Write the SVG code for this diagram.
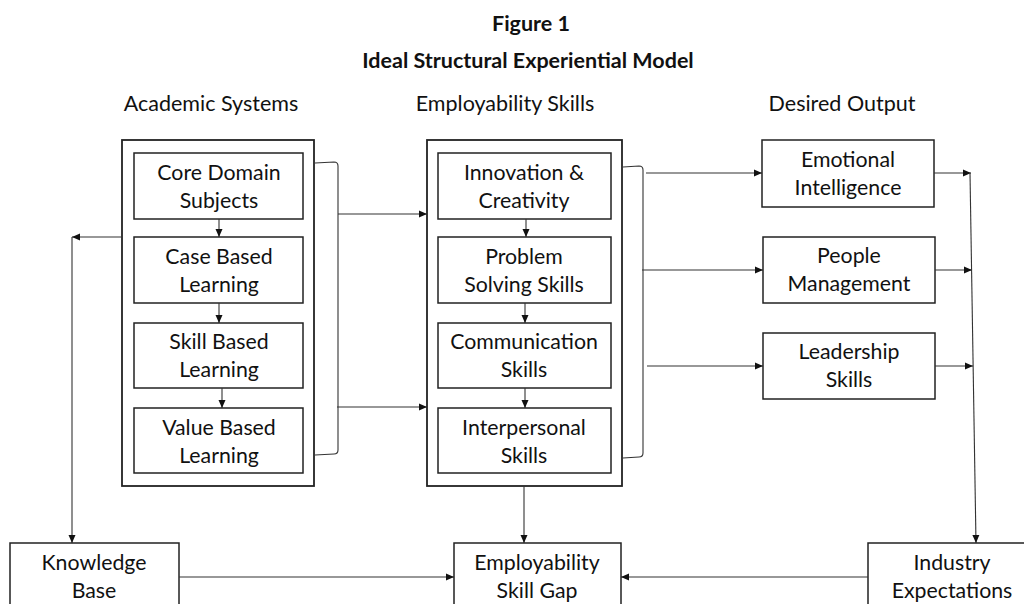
<svg xmlns="http://www.w3.org/2000/svg" width="1024" height="604" viewBox="0 0 1024 604">
  <style>
    .t { font-family: Lato, "Liberation Sans", sans-serif; font-size: 21.3px; fill: #111; text-anchor: middle; }
    .h { font-family: Lato, "Liberation Sans", sans-serif; font-size: 21.5px; fill: #111; text-anchor: middle; }
    .b { font-family: Lato, "Liberation Sans", sans-serif; font-size: 21.5px; font-weight: bold; fill: #111; text-anchor: middle; }
    .box { fill: #fff; stroke: #222; stroke-width: 1.5; }
    .frame { fill: #fff; stroke: #222; stroke-width: 1.8; }
    .c { fill: none; stroke: #333; stroke-width: 1.1; }
    .a { fill: none; stroke: #333; stroke-width: 1.1; marker-end: url(#ah); }
  </style>
  <defs>
    <marker id="ah" viewBox="0 0 8 8" refX="8" refY="4" markerWidth="8" markerHeight="8" markerUnits="userSpaceOnUse" orient="auto">
      <path d="M0,0.5 L8,4 L0,7.5 Z" fill="#111"/>
    </marker>
  </defs>
  <rect width="1024" height="604" fill="#fff"/>

  <!-- titles and column headings -->
  <text class="b" x="531" y="31">Figure 1</text>
  <text class="b" x="528" y="68">Ideal Structural Experiential Model</text>
  <text class="h" x="211" y="111">Academic Systems</text>
  <text class="h" x="505" y="111">Employability Skills</text>
  <text class="h" x="842" y="111">Desired Output</text>

  <!-- academic systems -->
  <g id="academic-systems">
    <rect class="frame" x="122" y="140" width="192" height="346"/>
  </g>
  <g id="core-domain-subjects">
    <rect class="box" x="134" y="153" width="169" height="66"/>
    <text class="t" x="219" y="180">Core Domain</text>
    <text class="t" x="219" y="208">Subjects</text>
  </g>
  <g id="case-based-learning">
    <rect class="box" x="134" y="237" width="169" height="66"/>
    <text class="t" x="219" y="264">Case Based</text>
    <text class="t" x="219" y="292">Learning</text>
  </g>
  <g id="skill-based-learning">
    <rect class="box" x="134" y="323" width="169" height="65"/>
    <text class="t" x="219" y="349">Skill Based</text>
    <text class="t" x="219" y="377">Learning</text>
  </g>
  <g id="value-based-learning">
    <rect class="box" x="134" y="408" width="169" height="65"/>
    <text class="t" x="219" y="435">Value Based</text>
    <text class="t" x="219" y="463">Learning</text>
  </g>

  <!-- employability skills -->
  <g id="employability-skills">
    <rect class="frame" x="427" y="140" width="195" height="346"/>
  </g>
  <g id="innovation-creativity">
    <rect class="box" x="438" y="153" width="173" height="66"/>
    <text class="t" x="524" y="180">Innovation &amp;</text>
    <text class="t" x="524" y="208">Creativity</text>
  </g>
  <g id="problem-solving-skills">
    <rect class="box" x="438" y="237" width="173" height="66"/>
    <text class="t" x="524" y="264">Problem</text>
    <text class="t" x="524" y="292">Solving Skills</text>
  </g>
  <g id="communication-skills">
    <rect class="box" x="438" y="323" width="173" height="65"/>
    <text class="t" x="524" y="349">Communication</text>
    <text class="t" x="524" y="377">Skills</text>
  </g>
  <g id="interpersonal-skills">
    <rect class="box" x="438" y="408" width="173" height="65"/>
    <text class="t" x="524" y="435">Interpersonal</text>
    <text class="t" x="524" y="463">Skills</text>
  </g>

  <!-- desired output -->
  <g id="emotional-intelligence">
    <rect class="box" x="762" y="140" width="172" height="67"/>
    <text class="t" x="848" y="167">Emotional</text>
    <text class="t" x="848" y="195">Intelligence</text>
  </g>
  <g id="people-management">
    <rect class="box" x="763" y="237" width="172" height="66"/>
    <text class="t" x="849" y="263">People</text>
    <text class="t" x="849" y="291">Management</text>
  </g>
  <g id="leadership-skills">
    <rect class="box" x="763" y="333" width="172" height="66"/>
    <text class="t" x="849" y="359">Leadership</text>
    <text class="t" x="849" y="387">Skills</text>
  </g>

  <!-- bottom row -->
  <g id="knowledge-base">
    <rect class="box" x="10" y="543" width="169" height="70"/>
    <text class="t" x="94" y="570">Knowledge</text>
    <text class="t" x="94" y="598">Base</text>
  </g>
  <g id="employability-skill-gap">
    <rect class="box" x="454" y="543" width="167" height="70"/>
    <text class="t" x="537" y="570">Employability</text>
    <text class="t" x="537" y="598">Skill Gap</text>
  </g>
  <g id="industry-expectations">
    <rect class="box" x="868" y="543" width="168" height="70"/>
    <text class="t" x="952" y="570">Industry</text>
    <text class="t" x="952" y="598">Expectations</text>
  </g>

  <!-- connectors -->
  <g id="connectors">
    <!-- inner chain: academic systems -->
    <line class="a" x1="219" y1="219" x2="219" y2="237"/>
    <line class="a" x1="219" y1="303" x2="219" y2="323"/>
    <line class="a" x1="222" y1="388" x2="222" y2="408"/>
    <!-- inner chain: employability skills -->
    <line class="a" x1="526" y1="219" x2="526" y2="237"/>
    <line class="a" x1="525" y1="303" x2="525" y2="323"/>
    <line class="a" x1="525" y1="388" x2="525" y2="408"/>
    <!-- bracket from academic systems -->
    <path class="c" d="M315,163 L334,162 Q338,162 338,166 L338,450 Q338,454 334,454 L315,455"/>
    <line class="a" x1="338" y1="214" x2="427" y2="214"/>
    <line class="a" x1="337" y1="407" x2="427" y2="407"/>
    <!-- bracket from employability skills -->
    <path class="c" d="M623,167 L639,166 Q643,166 643,170 L643,453 Q643,457 639,457 L623,458"/>
    <line class="a" x1="646" y1="173" x2="762" y2="173"/>
    <line class="a" x1="642" y1="270" x2="763" y2="270"/>
    <line class="a" x1="647" y1="366" x2="763" y2="366"/>
    <!-- desired output to industry expectations -->
    <line class="a" x1="934" y1="173" x2="971" y2="173"/>
    <line class="a" x1="935" y1="270" x2="972" y2="270"/>
    <line class="a" x1="935" y1="366" x2="973" y2="366"/>
    <line class="a" x1="970" y1="173" x2="976" y2="543"/>
    <!-- academic systems to knowledge base -->
    <line class="a" x1="122" y1="237" x2="72" y2="237"/>
    <line class="a" x1="72" y1="237" x2="72" y2="543"/>
    <!-- into employability skill gap -->
    <line class="a" x1="524" y1="486" x2="524" y2="543"/>
    <line class="a" x1="179" y1="577" x2="454" y2="577"/>
    <line class="a" x1="868" y1="577" x2="621" y2="577"/>
  </g>
</svg>
